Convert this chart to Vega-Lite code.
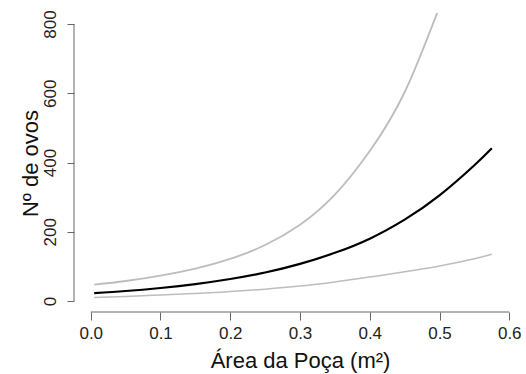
{
  "$schema": "https://vega.github.io/schema/vega-lite/v6.json",
  "width": 452,
  "height": 299,
  "autosize": {"type": "none"},
  "padding": {"left": 74, "top": 13, "right": 0, "bottom": 62},
  "background": "white",
  "config": {
    "view": {"stroke": null},
    "font": "Liberation Sans",
    "axis": {"grid": false, "domain": false, "tickColor": "#666666", "tickWidth": 1, "labelColor": "#222222", "titleColor": "#111111", "labelFont": "Liberation Sans", "titleFont": "Liberation Sans", "titleFontWeight": "normal"}
  },
  "datasets": {
    "curves": [
      {"area": 0.005, "ovos": 22.6, "serie": "ajuste"},
      {"area": 0.05, "ovos": 28.6, "serie": "ajuste"},
      {"area": 0.1, "ovos": 37.4, "serie": "ajuste"},
      {"area": 0.15, "ovos": 48.6, "serie": "ajuste"},
      {"area": 0.2, "ovos": 63.3, "serie": "ajuste"},
      {"area": 0.25, "ovos": 82, "serie": "ajuste"},
      {"area": 0.3, "ovos": 107, "serie": "ajuste"},
      {"area": 0.35, "ovos": 139, "serie": "ajuste"},
      {"area": 0.4, "ovos": 180, "serie": "ajuste"},
      {"area": 0.45, "ovos": 235, "serie": "ajuste"},
      {"area": 0.5, "ovos": 305, "serie": "ajuste"},
      {"area": 0.55, "ovos": 392, "serie": "ajuste"},
      {"area": 0.575, "ovos": 441, "serie": "ajuste"},
      {"area": 0.005, "ovos": 47, "serie": "superior"},
      {"area": 0.05, "ovos": 57.5, "serie": "superior"},
      {"area": 0.1, "ovos": 73, "serie": "superior"},
      {"area": 0.15, "ovos": 93.5, "serie": "superior"},
      {"area": 0.2, "ovos": 121.5, "serie": "superior"},
      {"area": 0.25, "ovos": 161.5, "serie": "superior"},
      {"area": 0.3, "ovos": 220, "serie": "superior"},
      {"area": 0.35, "ovos": 307, "serie": "superior"},
      {"area": 0.4, "ovos": 433, "serie": "superior"},
      {"area": 0.45, "ovos": 603, "serie": "superior"},
      {"area": 0.5, "ovos": 850, "serie": "superior"},
      {"area": 0.005, "ovos": 10, "serie": "inferior"},
      {"area": 0.05, "ovos": 13, "serie": "inferior"},
      {"area": 0.1, "ovos": 17, "serie": "inferior"},
      {"area": 0.15, "ovos": 21.5, "serie": "inferior"},
      {"area": 0.2, "ovos": 27, "serie": "inferior"},
      {"area": 0.25, "ovos": 34, "serie": "inferior"},
      {"area": 0.3, "ovos": 43, "serie": "inferior"},
      {"area": 0.35, "ovos": 55, "serie": "inferior"},
      {"area": 0.4, "ovos": 69, "serie": "inferior"},
      {"area": 0.45, "ovos": 84, "serie": "inferior"},
      {"area": 0.5, "ovos": 101, "serie": "inferior"},
      {"area": 0.55, "ovos": 122, "serie": "inferior"},
      {"area": 0.575, "ovos": 135, "serie": "inferior"}
    ]
  },
  "layer": [
    {
      "data": {"values": [{}]},
      "mark": {"type": "rule", "color": "#666666", "strokeWidth": 1},
      "encoding": {
        "x": {"datum": 0, "type": "quantitative", "scale": {"domain": [-0.024, 0.624], "nice": false, "zero": false}},
        "x2": {"datum": 0.6},
        "y": {"datum": -32, "type": "quantitative", "scale": {"domain": [-32, 832], "nice": false, "zero": false}}
      }
    },
    {
      "data": {"values": [{}]},
      "mark": {"type": "rule", "color": "#666666", "strokeWidth": 1},
      "encoding": {
        "x": {"datum": -0.024, "type": "quantitative"},
        "y": {"datum": 0, "type": "quantitative"},
        "y2": {"datum": 800}
      }
    },
    {
      "data": {"name": "curves"},
      "mark": {"type": "line", "interpolate": "natural", "clip": true},
      "encoding": {
        "x": {
          "field": "area", "type": "quantitative",
          "scale": {"domain": [-0.024, 0.624], "nice": false, "zero": false},
          "axis": {"values": [0, 0.1, 0.2, 0.3, 0.4, 0.5, 0.6], "format": ".1f", "title": "Área da Poça (m²)", "tickSize": 8, "labelFontSize": 17, "labelPadding": 5, "titleFontSize": 22, "titleBaseline": "alphabetic", "titleY": 55, "titleX": 226, "titleAnchor": "middle"}
        },
        "y": {
          "field": "ovos", "type": "quantitative",
          "scale": {"domain": [-32, 832], "nice": false, "zero": false},
          "axis": {"values": [0, 200, 400, 600, 800], "title": "Nº de ovos", "tickSize": 7, "labelAngle": -90, "labelAlign": "center", "labelBaseline": "bottom", "labelFontSize": 17, "labelPadding": 8, "titleFontSize": 22, "titleAngle": -90, "titleBaseline": "alphabetic", "titleAlign": "center", "titleX": -37, "titleY": 150}
        },
        "detail": {"field": "serie"},
        "color": {"field": "serie", "type": "nominal", "scale": {"domain": ["ajuste", "superior", "inferior"], "range": ["#000000", "#bdbdbd", "#bdbdbd"]}, "legend": null},
        "strokeWidth": {"field": "serie", "type": "nominal", "scale": {"domain": ["ajuste", "superior", "inferior"], "range": [2.2, 1.5, 1.5]}, "legend": null}
      }
    }
  ]
}
